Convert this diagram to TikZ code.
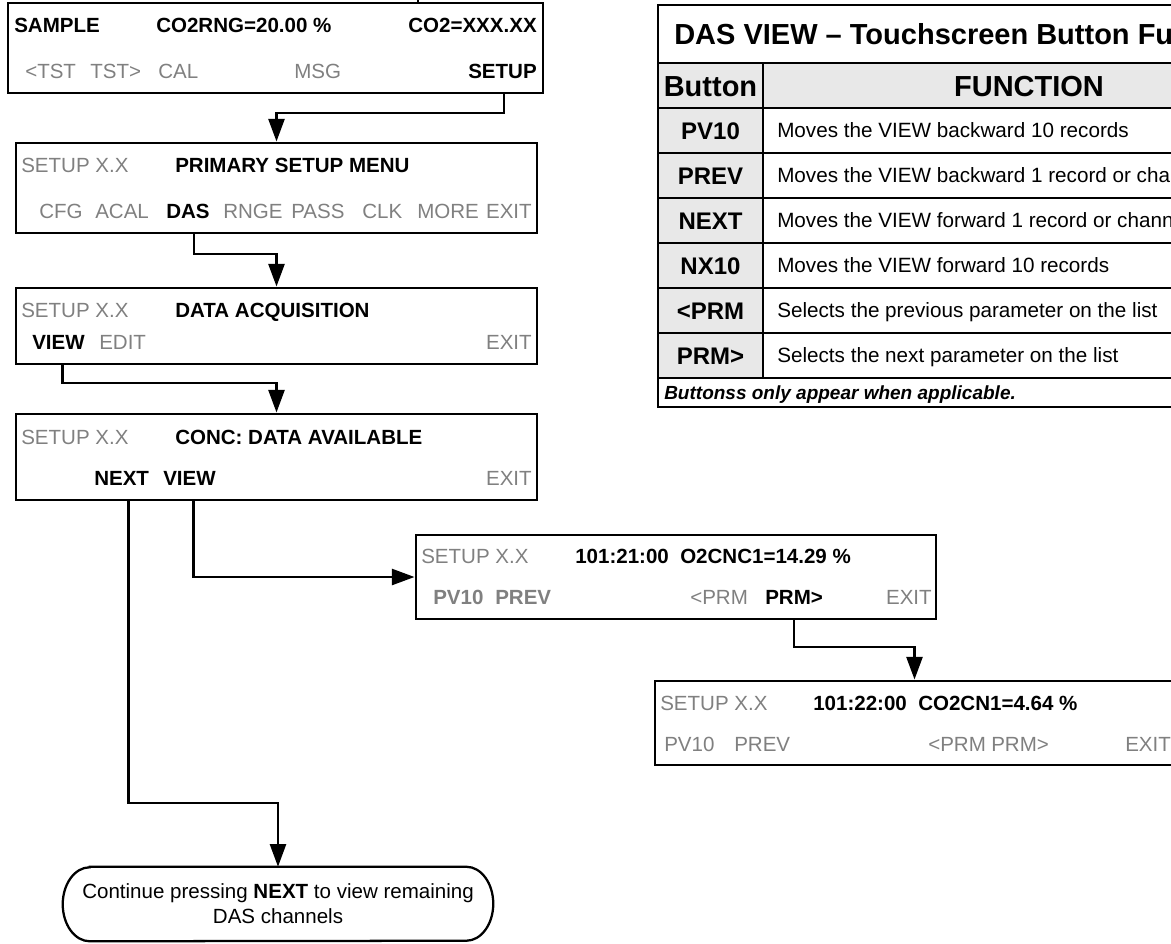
\documentclass[tikz,border=0pt]{standalone}
\usepackage{fontspec}
\setmainfont{Liberation Sans}
\usetikzlibrary{arrows.meta,fit,calc}
\definecolor{scrgray}{RGB}{128,128,128}
\definecolor{cellgray}{RGB}{232,232,232}
\begin{document}
\begin{tikzpicture}[x=0.75pt,y=-0.75pt,
  scr/.style={draw, line width=2.2pt, inner sep=0pt},
  t/.style={anchor=base west, inner sep=0pt, yshift=-5.5pt, font=\fontsize{15.4}{18}\selectfont},
  tr/.style={t, anchor=base east},
  g/.style={text=scrgray},
  b/.style={font=\fontsize{15.4}{18}\selectfont\bfseries},
  conn/.style={line width=1.9pt},
  arr/.style={conn, -{Triangle[length=17pt,width=12pt]}},
  cell/.style={draw, line width=1.6pt, inner sep=0pt},
  gcell/.style={cell, fill=cellgray},
  ttl/.style={inner sep=0pt, font=\fontsize{21.75}{26}\selectfont\bfseries, yshift=-7.8pt},
  tbtn/.style={anchor=base, inner sep=0pt, font=\fontsize{18}{22}\selectfont\bfseries, yshift=-6.4pt},
  tfun/.style={anchor=base west, inner sep=0pt, font=\fontsize{15.5}{18}\selectfont, yshift=-5.55pt},
  stadline/.style={line width=1.7pt}
]
\useasboundingbox (0,0) rectangle (1171,943);
\clip (0,0) rectangle (1171,943);

% ---------------- screens
\node[scr, fit={(8,3) (543,93)}] (s1) {};
\node[scr, fit={(16,143) (537,233)}] (s2) {};
\node[scr, fit={(16,288) (537,364)}] (s3) {};
\node[scr, fit={(16,414) (537,500)}] (s4) {};
\node[scr, fit={(416,535) (936,619)}] (s5) {};
\node[scr, fit={(655,681) (1174,765)}] (s6) {};

% screen 1
\node[t,b] (a1) at (14,25) {SAMPLE};
\node[t,b] (a2) at (156,25) {CO2RNG=20.00 \%};
\node[tr,b] (a3) at (537,25) {CO2=XXX.XX};
\node[t,g] (a4) at (25,71) {<TST};
\node[t,g] (a5) at (90,71) {TST>};
\node[t,g] (a6) at (158,71) {CAL};
\node[t,g] (a7) at (294,71) {MSG};
\node[tr,b] (tsetup) at (537,71) {SETUP};

% screen 2
\node[t,g] (b1) at (21,165) {SETUP X.X};
\node[t,b] (b2) at (175,165) {PRIMARY SETUP MENU};
\node[t,g] (b3) at (39,211) {CFG};
\node[t,g] (b4) at (95,211) {ACAL};
\node[t,b] (tdas) at (166,211) {DAS};
\node[t,g] (b5) at (223,211) {RNGE};
\node[t,g] (b6) at (291,211) {PASS};
\node[t,g] (b7) at (362,211) {CLK};
\node[t,g] (b8) at (417,211) {MORE};
\node[tr,g] (b9) at (532,211) {EXIT};

% screen 3
\node[t,g] (c1) at (21,310) {SETUP X.X};
\node[t,b] (c2) at (175,310) {DATA ACQUISITION};
\node[t,b] (tview) at (32,342) {VIEW};
\node[t,g] (c3) at (99,342) {EDIT};
\node[tr,g] (c4) at (532,342) {EXIT};

% screen 4
\node[t,g] (d1) at (21,437) {SETUP X.X};
\node[t,b] (d2) at (175,437) {CONC: DATA AVAILABLE};
\node[t,b] (tnext) at (94,478) {NEXT};
\node[t,b] (tview2) at (163,478) {VIEW};
\node[tr,g] (d3) at (532,478) {EXIT};

% screen 5
\node[t,g] (e1) at (421,556) {SETUP X.X};
\node[t,b] (e2) at (575,556) {101:21:00\ \ O2CNC1=14.29 \%};
\node[t,b,g] (e3) at (433,597) {PV10};
\node[t,b,g] (e4) at (495,597) {PREV};
\node[t,g] (e5) at (690,597) {<PRM};
\node[t,b] (tprm) at (765,597) {PRM>};
\node[tr,g] (e6) at (932,597) {EXIT};

% screen 6
\node[t,g] (f1) at (660,703) {SETUP X.X};
\node[t,b] (f2) at (813,703) {101:22:00\ \ CO2CN1=4.64 \%};
\node[t,g] (f3) at (664,744) {PV10};
\node[t,g] (f4) at (734,744) {PREV};
\node[t,g] (f5) at (928,744) {<PRM};
\node[t,g] (f6) at (991,744) {PRM>};
\node[t,g] (f7) at (1125,744) {EXIT};

% final note
\node[inner sep=0pt, fit={(63,867) (493,941)}] (stad) {};
\draw[stadline] ($(stad.north west)+(27,0)$) -- ($(stad.north east)+(-27,0)$)
  arc[start angle=90, end angle=-90, x radius=20.25pt, y radius=27.75pt]
  -- ($(stad.south west)+(27,0)$)
  arc[start angle=270, end angle=90, x radius=20.25pt, y radius=27.75pt] -- cycle;
\node[align=center, inner sep=0pt, font=\fontsize{15.4}{18.75}\selectfont] (note) at (stad.center)
  {Continue pressing \textbf{NEXT} to view remaining\\DAS channels};

% ---------------- connectors
\coordinate (h1) at (0,113);
\coordinate (h2) at (0,254);
\coordinate (h3) at (0,383);
\coordinate (h4) at (0,803);
\coordinate (h6) at (0,647);
\coordinate (stub) at (418,0);
\draw[conn] (stub) -- (stub |- s1.north);
\draw[arr] ([xshift=1pt]tsetup.south |- s1.south) -- ([xshift=1pt]tsetup.south |- h1) -| (s2.north);
\draw[arr] ([xshift=4.5pt]tdas.south |- s2.south) -- ([xshift=4.5pt]tdas.south |- h2) -| (s3.north);
\draw[arr] ([xshift=3pt]tview.south |- s3.south) -- ([xshift=3pt]tview.south |- h3) -| (s4.north);
\draw[arr] ([xshift=5pt]tnext.south |- s4.south) -- ([xshift=5pt]tnext.south |- h4) -| (stad.north);
\draw[arr] ([xshift=3pt]tview2.south |- s4.south) |- (s5.west);
\draw[arr] (tprm.south |- s5.south) -- (tprm.south |- h6) -| (s6.north);

% ---------------- table
\node[cell, fit={(658,5) (1295,63)}] (title) {};
\node[gcell, fit={(658,63) (763,108)}] (hb) {};
\node[gcell, fit={(763,63) (1295,108)}] (hf) {};
\node[gcell, fit={(658,108) (763,153)}] (r1b) {};
\node[cell, fit={(763,108) (1295,153)}] (r1f) {};
\node[gcell, fit={(658,153) (763,198)}] (r2b) {};
\node[cell, fit={(763,153) (1295,198)}] (r2f) {};
\node[gcell, fit={(658,198) (763,243)}] (r3b) {};
\node[cell, fit={(763,198) (1295,243)}] (r3f) {};
\node[gcell, fit={(658,243) (763,288)}] (r4b) {};
\node[cell, fit={(763,243) (1295,288)}] (r4f) {};
\node[gcell, fit={(658,288) (763,333)}] (r5b) {};
\node[cell, fit={(763,288) (1295,333)}] (r5f) {};
\node[gcell, fit={(658,333) (763,378)}] (r6b) {};
\node[cell, fit={(763,333) (1295,378)}] (r6f) {};
\node[cell, fit={(658,378) (1295,407)}] (foot) {};

\node[ttl, anchor=base west] (ttitle) at (674,34) {DAS VIEW – Touchscreen Button Fu};
\node[ttl, anchor=base] (thb) at (710.5,86) {Button};
\node[ttl, anchor=base] (thf) at (1029,86) {FUNCTION};

\node[tbtn] (k1) at (710.5,130.5) {PV10};
\node[tbtn] (k2) at (710.5,175.5) {PREV};
\node[tbtn] (k3) at (710.5,220.5) {NEXT};
\node[tbtn] (k4) at (710.5,265.5) {NX10};
\node[tbtn] (k5) at (710.5,310.5) {<PRM};
\node[tbtn] (k6) at (710.5,355.5) {PRM>};

\node[tfun] (m1) at (777,130.5) {Moves the VIEW backward 10 records};
\node[tfun] (m2) at (777,175.5) {Moves the VIEW backward 1 record or cha};
\node[tfun] (m3) at (777,220.5) {Moves the VIEW forward 1 record or chann};
\node[tfun] (m4) at (777,265.5) {Moves the VIEW forward 10 records};
\node[tfun] (m5) at (777,310.5) {Selects the previous parameter on the list};
\node[tfun] (m6) at (777,355.5) {Selects the next parameter on the list};

\node[anchor=base west, inner sep=0pt, font=\fontsize{14.25}{17}\selectfont\bfseries\itshape, yshift=-5.1pt] (ftxt) at (664,392.5) {Buttonss only appear when applicable.};
\end{tikzpicture}
\end{document}
